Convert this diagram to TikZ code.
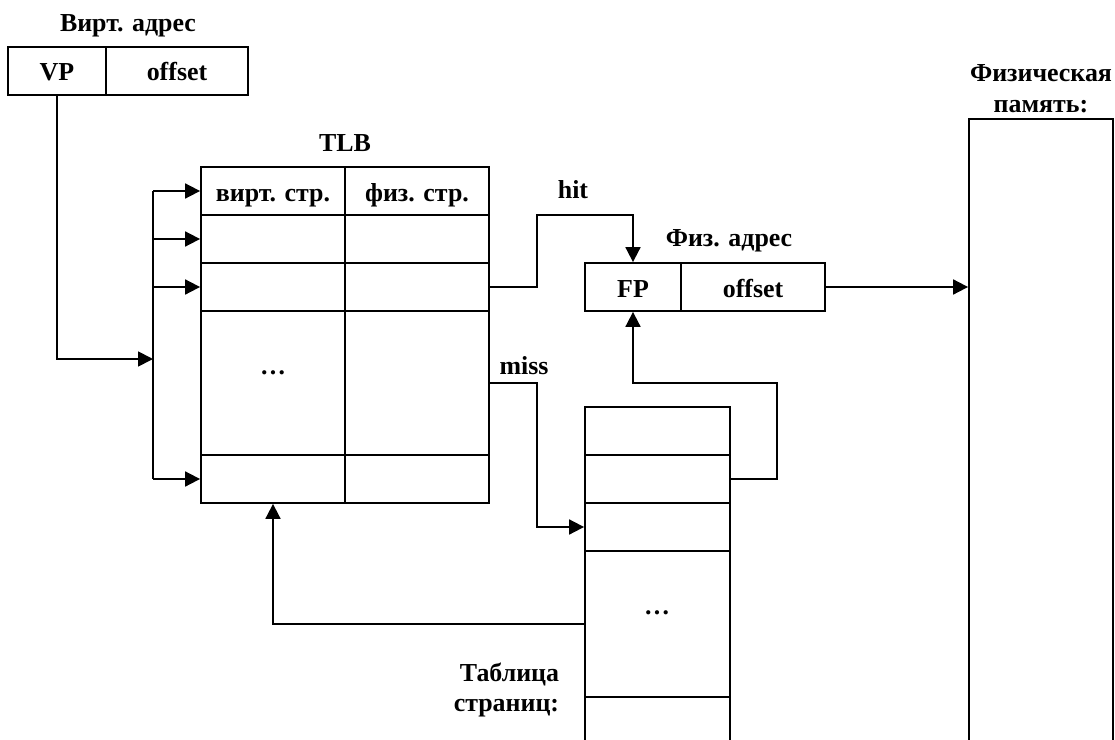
\documentclass[tikz,border=0pt]{standalone}
\usepackage{fontspec}
\setmainfont{Liberation Serif}
\usetikzlibrary{arrows.meta}

\begin{document}
\begin{tikzpicture}[x=1bp, y=-1bp, line width=1.8bp,
    every node/.style={inner sep=0pt, font=\fontsize{26}{31}\selectfont\bfseries},
    cell/.style={draw, rectangle, minimum height=48bp, text height=20bp, text depth=0pt},
    arr/.style={-{Triangle[length=15bp, width=15bp]}}]
        \clip (0,0) rectangle (1115,740);

        % Virtual address
        \node at (128,26) {Вирт. адрес};
        \node[cell, minimum width=98bp] (VP) at (57,71) {VP};
        \node[cell, minimum width=142bp] (VO) at (177,71) {offset};

        % TLB (rows: h, 1, 2, 3, 4; columns: a, b)
        \node at (345,143) {TLB};
        \node[cell, minimum width=144bp] (tha) at (273,191) {вирт. стр.};
        \node[cell, minimum width=144bp] (thb) at (417,191) {физ. стр.};
        \foreach \r/\y/\h in {1/239/48, 2/287/48, 3/383/144, 4/479/48} {
            \node[cell, minimum width=144bp, minimum height=\h bp] (t\r a) at (273,\y) {};
            \node[cell, minimum width=144bp, minimum height=\h bp] (t\r b) at (417,\y) {};
        }
        \node at (273,373) {…};

        % Physical address
        \node at (729,241) {Физ. адрес};
        \node[cell, minimum width=96bp] (FP) at (633,287) {FP};
        \node[cell, minimum width=144bp] (FO) at (753,287) {offset};

        % Page table (open at the bottom)
        \node[cell, minimum width=145bp] (p1) at (657.5,431) {};
        \node[cell, minimum width=145bp] (p2) at (657.5,479) {};
        \node[cell, minimum width=145bp] (p3) at (657.5,527) {};
        \node[cell, minimum width=145bp, minimum height=146bp] (p4) at (657.5,624) {};
        \node[cell, minimum width=145bp, minimum height=64bp] (p5) at (657.5,729) {};
        \node at (657,613) {…};
        \node[align=right, anchor=east] at (560,690) {Таблица\\страниц:};

        % Physical memory
        \node[align=center] at (1041,89) {Физическая\\память:};
        \node[cell, minimum width=144bp, minimum height=680bp] (mem) at (1041,459) {};

        % Bus to TLB rows
        \coordinate (bus) at (153,359);
        \draw (153,191) -- (153,479);
        \draw[arr] (VP.south) |- (bus);
        \foreach \r in {h,1,2,4} {
            \draw[arr] (t\r a.west -| bus) -- (t\r a.west);
        }

        % hit
        \coordinate (hitup) at (537,215);
        \draw[arr] (t2b.east) -| (hitup) -| (FP.north);
        \node at (573,190) {hit};

        % miss
        \coordinate (missdn) at (537,383);
        \draw[arr] (t3b.east) -- (missdn) |- (p3.west);
        \node at (524,366) {miss};

        % Page table back to FP and to TLB
        \coordinate (back) at (777,383);
        \draw[arr] (p2.east) -| (back) -| (FP.south);
        \draw[arr] (p4.west) -| (t4a.south);

        % Physical address to memory
        \draw[arr] (FO.east) -- (FO.east -| mem.west);
\end{tikzpicture}
\end{document}
